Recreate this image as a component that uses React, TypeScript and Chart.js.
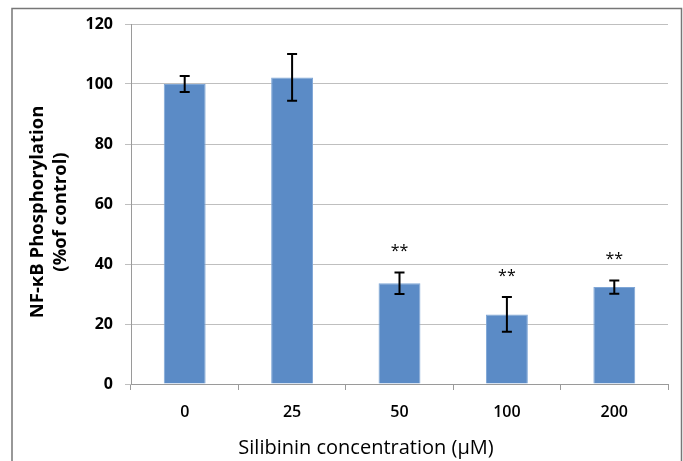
import React, { useEffect, useRef } from "react";
import { Chart, registerables } from "chart.js";

Chart.register(...registerables);

const categories = ["0", "25", "50", "100", "200"];
const means = [100, 102.2, 33.6, 23.2, 32.3];
const errors = [2.7, 7.8, 3.6, 5.8, 2.2];
const sigLabels = ["", "", "**", "**", "**"];
const yTitleLines = ["NF-κB Phosphorylation", "(%of control)"];
const xTitle = "Silibinin concentration (μM)";

const FONT = "'Open Sans', Lato, sans-serif";

const overlayPlugin = {
  id: "overlay",
  afterDatasetsDraw(chart: any) {
    const ctx = chart.ctx;
    const meta = chart.getDatasetMeta(0);
    const y = chart.scales.y;
    ctx.save();
    ctx.strokeStyle = "#000";
    ctx.lineWidth = 2;
    meta.data.forEach((bar: any, i: number) => {
      const x = bar.x;
      const top = y.getPixelForValue(means[i] + errors[i]);
      const bot = y.getPixelForValue(means[i] - errors[i]);
      ctx.beginPath();
      ctx.moveTo(x, top);
      ctx.lineTo(x, bot);
      ctx.moveTo(x - 5, top);
      ctx.lineTo(x + 5, top);
      ctx.moveTo(x - 5, bot);
      ctx.lineTo(x + 5, bot);
      ctx.stroke();
      if (sigLabels[i]) {
        ctx.fillStyle = "#000";
        ctx.font = `16px ${FONT}`;
        ctx.textAlign = "center";
        ctx.textBaseline = "middle";
        ctx.fillText(sigLabels[i], x, top - 21);
      }
    });
    ctx.restore();
  },
  afterDraw(chart: any) {
    const ctx = chart.ctx;
    ctx.save();
    // outer border
    ctx.strokeStyle = "#777";
    ctx.lineWidth = 1.5;
    ctx.strokeRect(12, 8.5, 669.5, 480);
    // y title
    ctx.fillStyle = "#000";
    ctx.font = `bold 18.5px ${FONT}`;
    ctx.textAlign = "center";
    ctx.textBaseline = "middle";
    ctx.translate(38, 212);
    ctx.rotate(-Math.PI / 2);
    ctx.fillText(yTitleLines[0], 0, 0);
    ctx.fillText(yTitleLines[1], 0, 23);
    ctx.restore();
    // x title
    ctx.save();
    ctx.fillStyle = "#000";
    ctx.font = `20px ${FONT}`;
    ctx.textAlign = "center";
    ctx.textBaseline = "middle";
    ctx.fillText(xTitle, 366, 448);
    ctx.restore();
  },
};

export default function App() {
  const ref = useRef<HTMLCanvasElement | null>(null);
  useEffect(() => {
    if (!ref.current) return;
    const chart = new Chart(ref.current, {
      type: "bar",
      data: {
        labels: categories,
        datasets: [
          {
            data: means,
            backgroundColor: "#5B8BC6",
            borderColor: "#7FA6D6",
            borderWidth: 1,
            barPercentage: 0.39,
            categoryPercentage: 1,
          },
        ],
      },
      options: {
        animation: false,
        responsive: false,
        maintainAspectRatio: false,
        layout: { padding: { left: 0, right: 15, top: 24, bottom: 0 } },
        plugins: {
          legend: { display: false },
          tooltip: { enabled: false },
        },
        scales: {
          x: {
            offset: true,
            grid: {
              offset: true,
              drawOnChartArea: false,
              drawTicks: true,
              tickLength: 6,
              color: "#9a9a9a",
            },
            border: { display: true, color: "#9a9a9a" },
            ticks: {
              color: "#000",
              font: { family: FONT, size: 16, weight: "600" },
              padding: 13,
            },
            afterFit: (s: any) => {
              s.height = 77;
            },
          },
          y: {
            min: 0,
            max: 120,
            ticks: {
              stepSize: 20,
              color: "#000",
              font: { family: FONT, size: 16, weight: "bold" },
              padding: 12,
            },
            grid: { color: "#bfbfbf", tickLength: 6, drawTicks: true },
            border: { display: true, color: "#9a9a9a" },
            afterFit: (s: any) => {
              s.width = 131;
            },
          },
        },
      },
      plugins: [overlayPlugin],
    });
    return () => chart.destroy();
  }, []);
  return (
    <div style={{ position: "absolute", left: 0, top: 0, width: 683, height: 461, background: "#fff" }}>
      <canvas ref={ref} width={683} height={461} style={{ width: 683, height: 461 }} />
    </div>
  );
}
